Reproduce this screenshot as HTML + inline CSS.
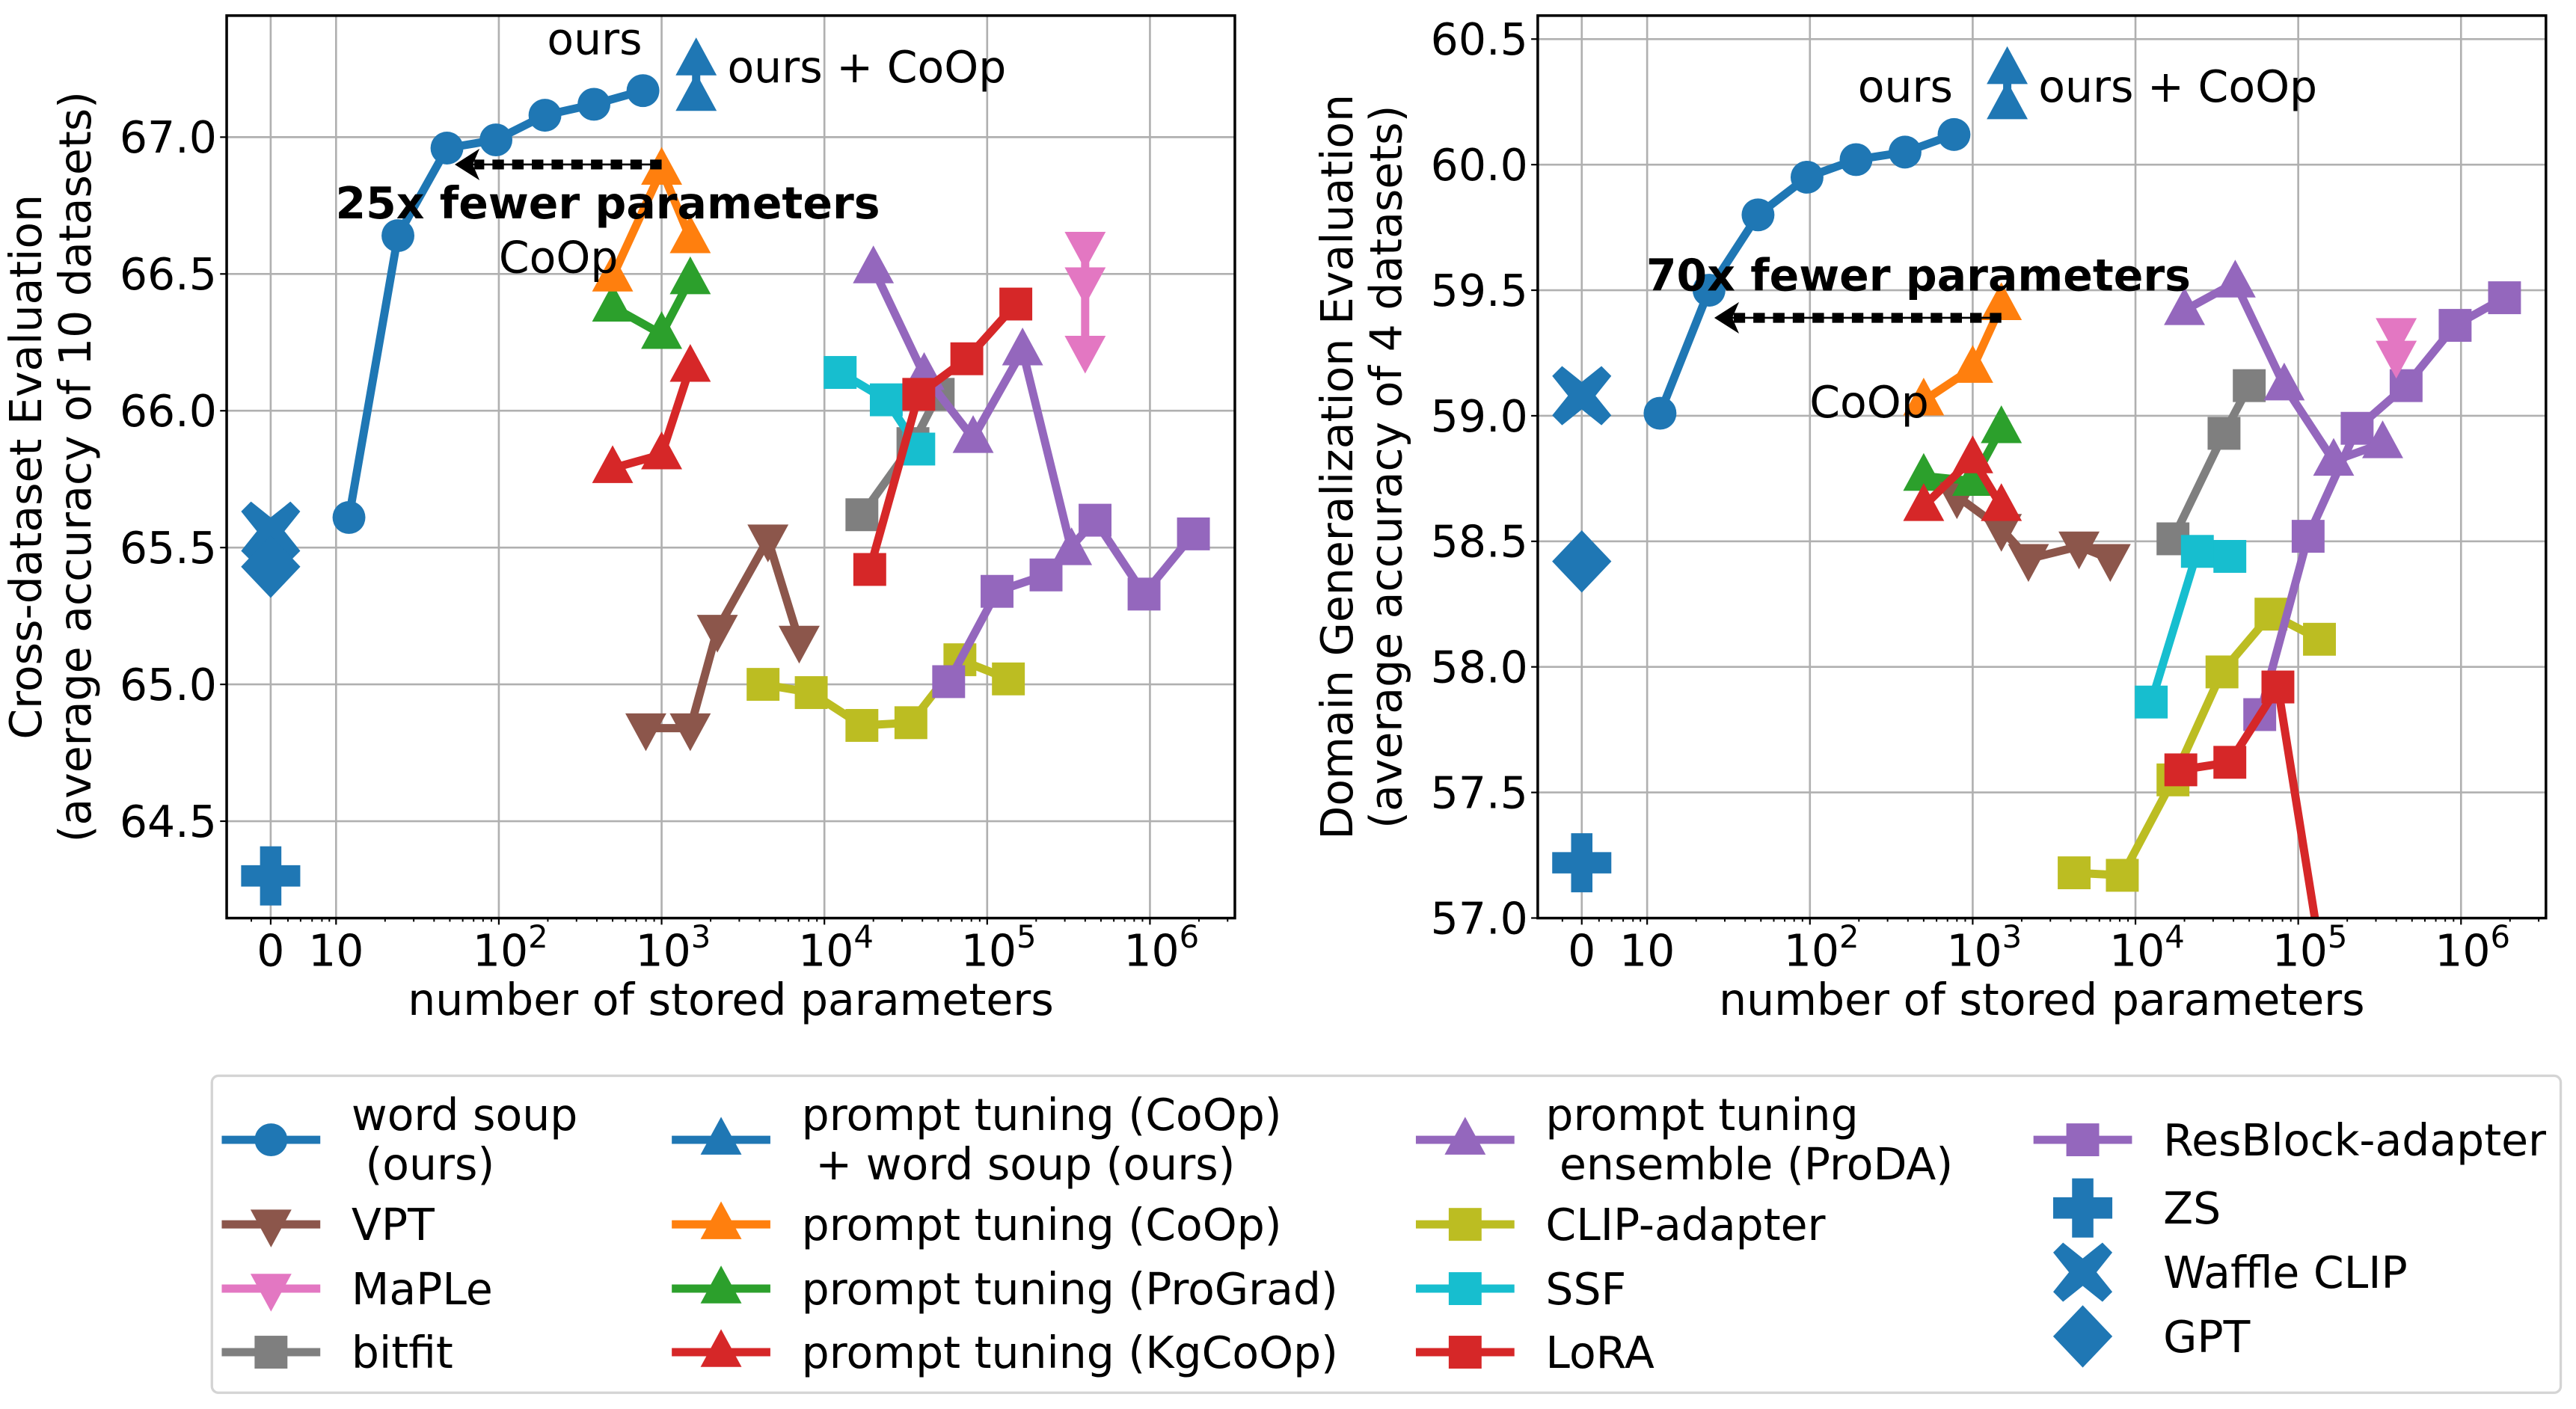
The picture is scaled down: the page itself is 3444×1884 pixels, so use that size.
<!DOCTYPE html>
<html><head><meta charset="utf-8"><style>
html,body{margin:0;padding:0;background:#fff;}
svg{display:block;}
text{font-family:"DejaVu Sans","Liberation Sans",sans-serif;}
</style></head><body>
<svg id="fig" xmlns="http://www.w3.org/2000/svg" width="3444" height="1884" viewBox="0 0 1568.3 857.9" preserveAspectRatio="none">
<defs>
<clipPath id="clipL"><rect x="138" y="9.5" width="613.8" height="549.5"/></clipPath>
<clipPath id="clipR"><rect x="935.8" y="9.5" width="613.8" height="549.5"/></clipPath>
</defs>
<g id="left"></g>
<g id="right"></g>
<g id="legend"></g>
</svg>
<script>
// ---- data: x = number of stored parameters ----
const wsX = [12, 24, 48, 96, 192, 384, 768];
const wsL = [65.61, 66.64, 66.96, 66.99, 67.08, 67.12, 67.17];
const wsR = [59.01, 59.50, 59.80, 59.95, 60.02, 60.05, 60.12];
const wsCoopX = [1630, 1630];
const wsCoopL = [67.28, 67.15];
const wsCoopR = [60.38, 60.24];
const coopX = [500, 1000, 1500];
const coopL = [66.49, 66.88, 66.63];
const coopR = [59.06, 59.19, 59.44];
const progradL = [66.38, 66.28, 66.48];
const progradR = [58.76, 58.74, 58.95];
const kgcoopL = [65.79, 65.84, 66.16];
const kgcoopR = [58.64, 58.83, 58.64];
const vptX = [800, 1500, 2200, 4500, 7000];
const vptL = [64.84, 64.84, 65.20, 65.53, 65.16];
const vptR = [58.68, 58.55, 58.43, 58.48, 58.43];
const mapleX = [400000, 400000, 400000];
const mapleL = [66.60, 66.47, 66.22];
const mapleXR = [400000, 400000];
const mapleR = [59.33, 59.24];
const bitfitX = [17000, 35000, 50000];
const bitfitL = [65.62, 65.88, 66.06];
const bitfitR = [58.51, 58.93, 59.12];
const ssfX = [12500, 24000, 38000];
const ssfL = [66.14, 66.04, 65.86];
const ssfR = [57.86, 58.46, 58.44];
const loraX = [19000, 38000, 75000, 150000];
const loraL = [65.42, 66.06, 66.19, 66.39];
const loraR = [57.59, 57.62, 57.92, 56.70];
const prodaX = [20000, 41000, 82000, 165000, 330000];
const prodaL = [66.52, 66.13, 65.90, 66.22, 65.49];
const prodaR = [59.42, 59.53, 59.12, 58.82, 58.89];
const clipadX = [4200, 8300, 17000, 34000, 68000, 135000];
const clipadL = [65.00, 64.97, 64.85, 64.86, 65.09, 65.02];
const clipadR = [57.18, 57.17, 57.55, 57.98, 58.21, 58.11];
const resX = [58000, 115000, 230000, 460000, 920000, 1850000];
const resL = [65.01, 65.34, 65.40, 65.60, 65.33, 65.55];
const resR = [57.81, 58.52, 58.95, 59.12, 59.36, 59.47];
const zsL = 64.30, zsR = 57.22;
const waffleL = 65.56, waffleR = 59.08;
const gptL = 65.43, gptR = 58.42;
const yTicksL = [64.5, 65.0, 65.5, 66.0, 66.5, 67.0];
const yTicksR = [57.0, 57.5, 58.0, 58.5, 59.0, 59.5, 60.0, 60.5];
const xTickVals = [0, 10, 100, 1000, 10000, 100000, 1000000];
const xTickLabels = ["0", "10", "10|2", "10|3", "10|4", "10|5", "10|6"];

const FS = 26.6;
const C = {blue:"#1f77b4",orange:"#ff7f0e",green:"#2ca02c",red:"#d62728",purple:"#9467bd",brown:"#8c564b",pink:"#e377c2",gray:"#7f7f7f",olive:"#bcbd22",cyan:"#17becf"};
const NS = "http://www.w3.org/2000/svg";
function mk(tag, attrs, parent){ const e=document.createElementNS(NS,tag); for(const k in attrs) e.setAttribute(k,attrs[k]); if(parent) parent.appendChild(e); return e; }

function makeAxes(off, yPerUnit, yRefVal, yRefPix){
  return {
    off: off,
    x: v => v===0 ? 164.8+off : 204.6+off + 99.1*(Math.log10(v)-1),
    y: v => yRefPix + (yRefVal - v)*yPerUnit
  };
}
const axL = makeAxes(0, 166.6, 67.0, 83.5);
const axR = makeAxes(798.2, 152.9, 60.5, 23.8);

function marker(g, type, cx, cy, color, s){
  s = s || 1; let e;
  if(type==='o'){ e=mk('circle',{cx:cx,cy:cy,r:10*s,fill:color},g); }
  else if(type==='^'){ e=mk('polygon',{points:`${cx},${cy-14*s} ${cx+12.5*s},${cy+9*s} ${cx-12.5*s},${cy+9*s}`,fill:color},g); }
  else if(type==='v'){ e=mk('polygon',{points:`${cx},${cy+14*s} ${cx+12.5*s},${cy-9*s} ${cx-12.5*s},${cy-9*s}`,fill:color},g); }
  else if(type==='s'){ e=mk('rect',{x:cx-10*s,y:cy-10*s,width:20*s,height:20*s,fill:color},g); }
  else if(type==='P'){ const a=18*s,b=6.5*s; e=mk('polygon',{points:`${cx-b},${cy-a} ${cx+b},${cy-a} ${cx+b},${cy-b} ${cx+a},${cy-b} ${cx+a},${cy+b} ${cx+b},${cy+b} ${cx+b},${cy+a} ${cx-b},${cy+a} ${cx-b},${cy+b} ${cx-a},${cy+b} ${cx-a},${cy-b} ${cx-b},${cy-b}`,fill:color},g); }
  else if(type==='X'){ const a=18*s,b=6*s; e=mk('polygon',{points:`${cx-a+b},${cy-a} ${cx},${cy-b*1.4} ${cx+a-b},${cy-a} ${cx+a},${cy-a+b} ${cx+b*1.4},${cy} ${cx+a},${cy+a-b} ${cx+a-b},${cy+a} ${cx},${cy+b*1.4} ${cx-a+b},${cy+a} ${cx-a},${cy+a-b} ${cx-b*1.4},${cy} ${cx-a},${cy-a+b}`,fill:color},g); }
  else if(type==='D'){ const a=19*s; e=mk('polygon',{points:`${cx},${cy-a} ${cx+a*0.95},${cy} ${cx},${cy+a} ${cx-a*0.95},${cy}`,fill:color},g); }
  return e;
}

function series(g, ax, xs, ys, color, type, name){
  const sg = mk('g',{},g);
  
  
  if(xs.length>1){
    const pts = xs.map((x,i)=>ax.x(x)+','+ax.y(ys[i])).join(' ');
    mk('polyline',{points:pts,fill:'none',stroke:color,'stroke-width':5,'stroke-linejoin':'round','stroke-linecap':'round'},sg);
  }
  xs.forEach((x,i)=>{
    const m = marker(sg, type, ax.x(x), ax.y(ys[i]), color);
    
    
  });
}

function buildAxes(gid, ax, clip, D){
  const g = document.getElementById(gid);
  const L = 138+ax.off, R = 751.8+ax.off, T = 9.5, B = 559;
  mk('rect',{x:L,y:T,width:R-L,height:B-T,fill:'#fff'},g);
  const grid = mk('g',{},g);
  
  
  xTickVals.forEach(v=>{ const x=ax.x(v); mk('line',{x1:x,x2:x,y1:T,y2:B,stroke:'#b0b0b0','stroke-width':1.2},grid); });
  D.yTicks.forEach(v=>{ const y=ax.y(v); mk('line',{x1:L,x2:R,y1:y,y2:y,stroke:'#b0b0b0','stroke-width':1.2},grid); });
  const minor=[153,175.3,183,190,196,200.5].map(p=>p+ax.off);
  for(let d=1; d<=6; d++) for(let k=2;k<=9;k++){ const x=ax.x(k*Math.pow(10,d)); if(x<R) minor.push(x); }
  minor.forEach(x=>mk('line',{x1:x,x2:x,y1:B,y2:B+2.2,stroke:'#000','stroke-width':0.9},g));
  xTickVals.forEach((v,i)=>{
    const x=ax.x(v);
    mk('line',{x1:x,x2:x,y1:B,y2:B+4,stroke:'#000','stroke-width':1},g);
    const parts=xTickLabels[i].split('|');
    const t=mk('text',{x:x,y:B+29,'font-size':FS,'text-anchor':'middle'},g);
    
    
    if(parts.length===1){ t.textContent=parts[0]; }
    else { t.setAttribute('x',x+7); const a=mk('tspan',{},t); a.textContent=parts[0]; const b=mk('tspan',{dy:-11,'font-size':19}); b.textContent=parts[1]; t.appendChild(b); }
  });
  D.yTicks.forEach(v=>{
    const y=ax.y(v);
    mk('line',{x1:L-4,x2:L,y1:y,y2:y,stroke:'#000','stroke-width':1},g);
    const t=mk('text',{x:L-6,y:y+9.5,'font-size':FS,'text-anchor':'end'},g);
    t.textContent=v.toFixed(1);
    
    
  });
  const cx=(L+R)/2;
  const xl=mk('text',{x:cx,y:618,'font-size':FS,'text-anchor':'middle'},g);
  xl.textContent='number of stored parameters';
  
  
  const y1=mk('text',{transform:`translate(${L-113},${(T+B)/2}) rotate(-90)`,'font-size':FS,'text-anchor':'middle'},g);
  y1.textContent=D.yl1;
  
  
  const y2=mk('text',{transform:`translate(${L-83},${(T+B)/2}) rotate(-90)`,'font-size':FS,'text-anchor':'middle'},g);
  y2.textContent=D.yl2;
  
  

  const pg = mk('g',{'clip-path':`url(#${clip})`},g);
  return {g:g, pg:pg, frame:()=>mk('rect',{x:L,y:T,width:R-L,height:B-T,fill:'none',stroke:'#000','stroke-width':1.6},g),
    annot:()=>{
      const ag=mk('g',{},pg);
      
      
      const x1=ax.x(D.aFrom), x2=ax.x(D.aTo), y=ax.y(D.aY);
      mk('line',{x1:x1,x2:x2+10,y1:y,y2:y,stroke:'#000','stroke-width':6,'stroke-dasharray':'7,5'},ag);
      mk('line',{x1:x1,x2:x2+8,y1:y,y2:y,stroke:'#000','stroke-width':1.2},ag);
      mk('polygon',{points:`${x2},${y} ${x2+11},${y-7} ${x2+8},${y} ${x2+11},${y+7}`,fill:'#000',stroke:'#000','stroke-width':2},ag);
      const ft=mk('text',{x:D.ftX,y:D.ftY,'font-size':26.6,'font-weight':'bold','text-anchor':'middle'},g);
      ft.textContent=D.ft;
      
      
      const o=mk('text',{x:D.oX,y:D.oY,'font-size':FS,'text-anchor':'middle'},g);
      o.textContent='ours';
      
      
      const oc=mk('text',{x:ax.x(1630)+19,y:D.ocY,'font-size':FS},g);
      oc.textContent='ours + CoOp';
      
      
      const ct=mk('text',{x:D.cX,y:D.cY,'font-size':FS,'text-anchor':'middle'},g);
      ct.textContent='CoOp';
      
      
    }};
}

function drawChart(gid, ax, clip, D){
  const A = buildAxes(gid, ax, clip, D);
  const p = A.pg;
  series(p, ax, clipadX, D.clipad, C.olive, 's', 'clip-adapter-series');
  series(p, ax, resX, D.res, C.purple, 's', 'resblock-adapter-series');
  series(p, ax, vptX, D.vpt, C.brown, 'v', 'vpt-series');
  series(p, ax, bitfitX, D.bitfit, C.gray, 's', 'bitfit-series');
  series(p, ax, ssfX, D.ssf, C.cyan, 's', 'ssf-series');
  series(p, ax, prodaX, D.proda, C.purple, '^', 'proda-series');
  series(p, ax, loraX, D.lora, C.red, 's', 'lora-series');
  series(p, ax, D.mapleX, D.maple, C.pink, 'v', 'maple-series');
  series(p, ax, coopX, D.prograd, C.green, '^', 'prograd-series');
  series(p, ax, coopX, D.kgcoop, C.red, '^', 'kgcoop-series');
  series(p, ax, coopX, D.coop, C.orange, '^', 'coop-series');
  A.annot();
  series(p, ax, wsX, D.ws, C.blue, 'o', 'word-soup-series');
  series(p, ax, wsCoopX, D.wsCoop, C.blue, '^', 'word-soup-coop-series');
  const zg=mk('g',{},p);
  
  
  marker(zg,'P',ax.x(0),ax.y(D.zs),C.blue);
  marker(zg,'X',ax.x(0),ax.y(D.waffle),C.blue);
  marker(zg,'D',ax.x(0),ax.y(D.gpt),C.blue);
  A.frame();
}

drawChart('left', axL, 'clipL', {yTicks:yTicksL, yl1:'Cross-dataset Evaluation', yl2:'(average accuracy of 10 datasets)',
  aFrom:1000, aTo:56, aY:66.90, ft:'25x fewer parameters', ftX:370, ftY:133, oX:362, oY:33, cX:340, cY:166, ocY:50,
  ws:wsL, wsCoop:wsCoopL, coop:coopL, prograd:progradL, kgcoop:kgcoopL, vpt:vptL, mapleX:mapleX, maple:mapleL,
  bitfit:bitfitL, ssf:ssfL, lora:loraL, proda:prodaL, clipad:clipadL, res:resL, zs:zsL, waffle:waffleL, gpt:gptL});
drawChart('right', axR, 'clipR', {yTicks:yTicksR, yl1:'Domain Generalization Evaluation', yl2:'(average accuracy of 4 datasets)',
  aFrom:1500, aTo:27, aY:59.39, ft:'70x fewer parameters', ftX:1168, ftY:177, oX:1160, oY:62, cX:1138, cY:254, ocY:62,
  ws:wsR, wsCoop:wsCoopR, coop:coopR, prograd:progradR, kgcoop:kgcoopR, vpt:vptR, mapleX:mapleXR, maple:mapleR,
  bitfit:bitfitR, ssf:ssfR, lora:loraR, proda:prodaR, clipad:clipadR, res:resR, zs:zsR, waffle:waffleR, gpt:gptR});

// ---- legend ----
const legNames = ["word soup| (ours)","VPT","MaPLe","bitfit","prompt tuning (CoOp)| + word soup (ours)","prompt tuning (CoOp)","prompt tuning (ProGrad)","prompt tuning (KgCoOp)","prompt tuning| ensemble (ProDA)","CLIP-adapter","SSF","LoRA","ResBlock-adapter","ZS","Waffle CLIP","GPT"];
const legColors = [C.blue,C.brown,C.pink,C.gray,C.blue,C.orange,C.green,C.red,C.purple,C.olive,C.cyan,C.red,C.purple,C.blue,C.blue,C.blue];
const legMarkers = ['o','v','v','s','^','^','^','^','^','s','s','s','s','P','X','D'];
const lg=document.getElementById('legend');
mk('rect',{x:129,y:655,width:1430,height:193,rx:4,fill:'#fff',stroke:'#d4d4d4','stroke-width':1.5},lg);
const colH=[[135,195,214],[409,469,488],[862,922,941],[1238,1298,1317]];
const rowsA=[694,745.5,784.6,823.3], rowsB=[694,735.5,774.6,813.7];
legNames.forEach((n,i)=>{
  const c=Math.floor(i/4), r=i%4;
  const cy=(c===3?rowsB:rowsA)[r];
  const h=colH[c];
  const eg=mk('g',{},lg);
  
  
  if(i<13) mk('line',{x1:h[0],x2:h[1],y1:cy,y2:cy,stroke:legColors[i],'stroke-width':5},eg);
  marker(eg, legMarkers[i], (h[0]+h[1])/2, cy, legColors[i]);
  const parts=n.split('|');
  if(parts.length===1){ const t=mk('text',{x:h[2],y:cy+9.5,'font-size':FS},eg); t.textContent=parts[0]; }
  else { const t1=mk('text',{x:h[2],y:cy-6,'font-size':FS},eg); t1.textContent=parts[0];
         const t2=mk('text',{x:h[2],y:cy+24,'font-size':FS},eg); t2.textContent='\u00a0'+parts[1].trim(); }
});
</script>
</body></html>
